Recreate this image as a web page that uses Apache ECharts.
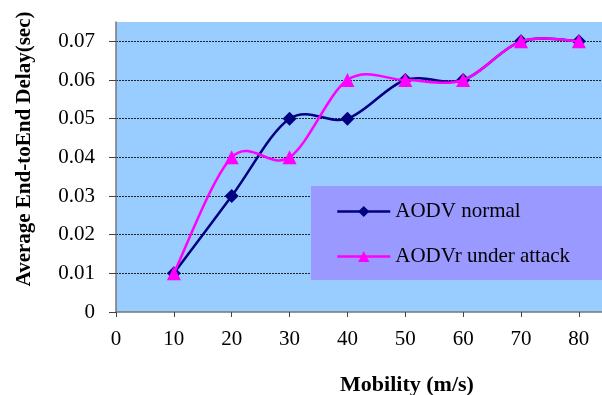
<!DOCTYPE html>
<html>
<head>
<meta charset="utf-8">
<script src="https://cdn.jsdelivr.net/npm/echarts@6/dist/echarts.min.js"></script>
<style>html,body{margin:0;padding:0;background:#fff}#c{width:602px;height:395px}</style>
</head>
<body>
<div id="c"></div>
<script>
var mobility = [10, 20, 30, 40, 50, 60, 70, 80];
var aodvNormal = [0.01, 0.03, 0.05, 0.05, 0.06, 0.06, 0.07, 0.07];
var aodvAttack = [0.01, 0.04, 0.04, 0.06, 0.06, 0.06, 0.07, 0.07];
var seriesNames = ['AODV normal', 'AODVr under attack'];
var seriesColors = ['#000080', '#FF00FF'];
var xTitle = 'Mobility (m/s)';
var yTitle = 'Average End-toEnd Delay(sec)';

function pairs(xs, ys) { return xs.map(function (x, i) { return [x, ys[i]]; }); }

// Excel-like smoothed line (Catmull-Rom via cubic Bezier), drawn through the axis scales
function curveSeries(ys, color, z) {
  return {
    name: '_curve_' + color, type: 'custom', coordinateSystem: 'cartesian2d',
    data: pairs(mobility, ys), encode: { x: 0, y: 1 }, z: z, silent: true,
    renderItem: function (params, api) {
      var i = params.dataIndex, n = mobility.length;
      if (i >= n - 1) return null;
      function P(k) { k = Math.max(0, Math.min(n - 1, k)); return api.coord([mobility[k], ys[k]]); }
      var p0 = P(i - 1), p1 = P(i), p2 = P(i + 1), p3 = P(i + 2);
      return {
        type: 'bezierCurve',
        shape: {
          x1: p1[0], y1: p1[1], x2: p2[0], y2: p2[1],
          cpx1: p1[0] + (p2[0] - p0[0]) / 6, cpy1: p1[1] + (p2[1] - p0[1]) / 6,
          cpx2: p2[0] - (p3[0] - p1[0]) / 6, cpy2: p2[1] - (p3[1] - p1[1]) / 6
        },
        style: { stroke: color, lineWidth: 2.5, fill: null }
      };
    }
  };
}

var chart = echarts.init(document.getElementById('c'), null, { renderer: 'canvas' });
var font = '"Liberation Serif", "Times New Roman", serif';
chart.setOption({
  animation: false,
  backgroundColor: '#ffffff',
  grid: { left: 116, top: 22, right: 0, bottom: 83, show: true, backgroundColor: '#99CCFF', borderWidth: 0,
    containLabel: false, outerBoundsMode: 'none' },
  xAxis: {
    type: 'value', min: 0, max: 84, interval: 10,
    name: xTitle, nameLocation: 'middle', nameGap: 62,
    nameTextStyle: { fontFamily: font, fontSize: 22, fontWeight: 'bold', color: '#000', padding: [0, 0, 0, 96] },
    axisLine: { show: true, lineStyle: { color: '#777', width: 1.5 } },
    axisTick: { show: true, length: 5, inside: false, lineStyle: { color: '#444' } },
    axisLabel: { fontFamily: font, fontSize: 21, color: '#000', margin: 17, showMaxLabel: false },
    splitLine: { show: false }
  },
  yAxis: {
    type: 'value', min: 0, max: 0.075, interval: 0.01,
    axisLine: { show: true, lineStyle: { color: '#777', width: 1.5 } },
    axisTick: { show: true, length: 7, lineStyle: { color: '#444' } },
    axisLabel: { fontFamily: font, fontSize: 21, color: '#000', margin: 21, showMaxLabel: false,
      formatter: function (v) { return v === 0 ? '0' : v.toFixed(2); } },
    splitLine: { show: true, showMinLine: false, showMaxLine: false, lineStyle: { color: '#222', type: [2, 1], width: 1 } }
  },
  legend: {
    orient: 'vertical', left: 311, top: 186,
    padding: [15, 34, 13, 25],
    itemGap: 24, itemWidth: 53, itemHeight: 14,
    backgroundColor: '#9999FF',
    textStyle: { fontFamily: font, fontSize: 21, lineHeight: 21, color: '#000' },
    data: [
      { name: seriesNames[0], lineStyle: { color: seriesColors[0], width: 2.5, opacity: 1 } },
      { name: seriesNames[1], lineStyle: { color: seriesColors[1], width: 2.5, opacity: 1 } }
    ]
  },
  graphic: [{
    type: 'text',
    x: 25, y: 149, rotation: Math.PI / 2,
    style: { text: yTitle, font: 'bold 21px ' + font, fill: '#000', align: 'center', verticalAlign: 'middle' }
  }],
  series: [
    curveSeries(aodvNormal, seriesColors[0], 2),
    curveSeries(aodvAttack, seriesColors[1], 4),
    {
      name: seriesNames[0], type: 'line',
      data: pairs(mobility, aodvNormal),
      symbol: 'diamond', symbolSize: 14,
      lineStyle: { color: seriesColors[0], width: 2.5, opacity: 0 },
      itemStyle: { color: seriesColors[0] },
      z: 3
    }, {
      name: seriesNames[1], type: 'line',
      data: pairs(mobility, aodvAttack),
      symbol: 'triangle', symbolSize: 14,
      lineStyle: { color: seriesColors[1], width: 2.5, opacity: 0 },
      itemStyle: { color: seriesColors[1] },
      z: 5
    }
  ]
});
</script>
</body>
</html>
